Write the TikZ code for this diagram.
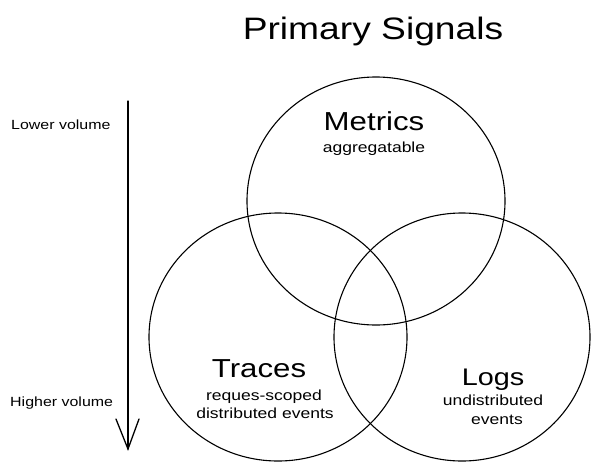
\documentclass[tikz,border=0pt]{standalone}
\usepackage{fontspec}
\setmainfont{Liberation Sans}[FakeStretch=1.2]
\usetikzlibrary{shapes.geometric}
\tikzset{
  venn/.style={draw=black, line width=1.1pt, ellipse, minimum width=258pt, minimum height=248pt, inner sep=0pt},
  lbl/.style={anchor=base, inner sep=0pt, text=black},
  axisline/.style={draw=black, line width=1.3pt, line cap=round},
}
\newcommand{\fsz}[1]{\fontsize{#1}{#1}\selectfont}
\begin{document}
\begin{tikzpicture}[x=1pt,y=-1pt]
\useasboundingbox (0,0) rectangle (601,471);
% circles
\node[venn] (metricsC) at (376,201) {};
\node[venn] (tracesC) at (278,337) {};
\node[venn, minimum width=256pt] (logsC) at (462,337) {};
% title
\node[lbl] (title) at (373,39) {\fsz{31}Primary Signals};
% axis labels
\node[lbl, anchor=base west] (lower) at (11,129) {\fsz{13.3}Lower volume};
\node[lbl, anchor=base west] (higher) at (10,406) {\fsz{13.3}Higher volume};
% arrow
\coordinate (atop) at (128,101);
\coordinate (atip) at (128,449);
\coordinate (aleft) at (116,419);
\coordinate (aright) at (139,419);
\draw[axisline] (atop) -- (atip);
\draw[axisline] (aleft) -- (atip) -- (aright);
% circle texts
\node[lbl] (metrics) at (374,130) {\fsz{26}Metrics};
\node[lbl] (aggr) at (374,152) {\fsz{14.6}aggregatable};
\node[lbl] (traces) at (259,377) {\fsz{26}Traces};
\node[lbl] (reqs) at (264,400) {\fsz{14.6}reques-scoped};
\node[lbl] (dist) at (265,418) {\fsz{14.6}distributed events};
\node[lbl] (logs) at (493,385) {\fsz{24}Logs};
\node[lbl] (undist) at (493,405) {\fsz{14.6}undistributed};
\node[lbl] (events) at (497,424) {\fsz{14.6}events};
\end{tikzpicture}
\end{document}
